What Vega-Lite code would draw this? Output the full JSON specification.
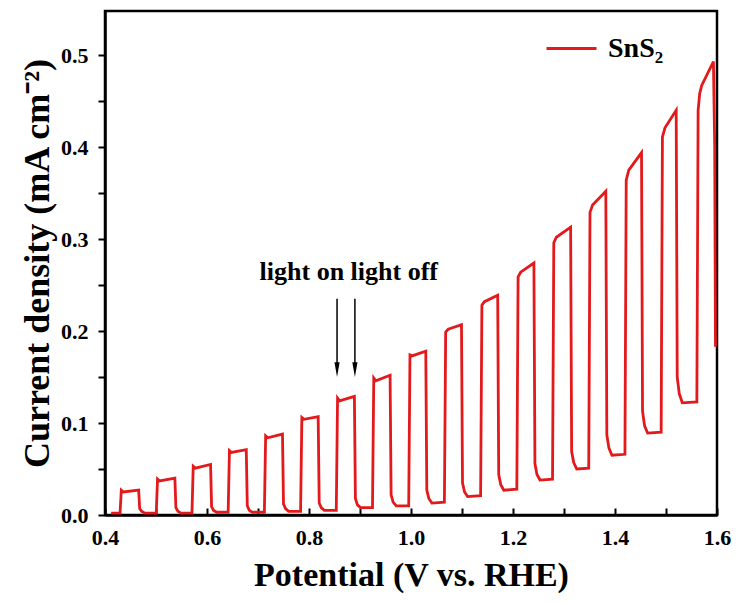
{
  "$schema": "https://vega.github.io/schema/vega-lite/v6.json",
  "width": 612,
  "height": 504,
  "autosize": {"type": "none"},
  "padding": {"left": 105, "top": 11, "right": 21, "bottom": 88},
  "background": "white",
  "datasets": {
    "curve": [
      {"i":0,"v":0.412,"j":0.002},{"i":1,"v":0.4295,"j":0.002},
      {"i":2,"v":0.432,"j":0.027},{"i":3,"v":0.436,"j":0.025},{"i":4,"v":0.466,"j":0.027},{"i":5,"v":0.468,"j":0.007},{"i":6,"v":0.472,"j":0.004},{"i":7,"v":0.478,"j":0.002},
      {"i":8,"v":0.5005,"j":0.002},{"i":9,"v":0.503,"j":0.039},{"i":10,"v":0.507,"j":0.037},{"i":11,"v":0.537,"j":0.040},{"i":12,"v":0.539,"j":0.008},{"i":13,"v":0.543,"j":0.004},{"i":14,"v":0.549,"j":0.002},
      {"i":15,"v":0.5705,"j":0.002},{"i":16,"v":0.573,"j":0.053},{"i":17,"v":0.577,"j":0.051},{"i":18,"v":0.607,"j":0.055},{"i":19,"v":0.609,"j":0.009},{"i":20,"v":0.613,"j":0.005},{"i":21,"v":0.619,"j":0.003},
      {"i":22,"v":0.6415,"j":0.003},{"i":23,"v":0.644,"j":0.070},{"i":24,"v":0.648,"j":0.068},{"i":25,"v":0.677,"j":0.071},{"i":26,"v":0.679,"j":0.010},{"i":27,"v":0.683,"j":0.005},{"i":28,"v":0.689,"j":0.003},
      {"i":29,"v":0.7125,"j":0.003},{"i":30,"v":0.715,"j":0.086},{"i":31,"v":0.719,"j":0.084},{"i":32,"v":0.748,"j":0.088},{"i":33,"v":0.750,"j":0.012},{"i":34,"v":0.754,"j":0.007},{"i":35,"v":0.760,"j":0.004},
      {"i":36,"v":0.7835,"j":0.004},{"i":37,"v":0.786,"j":0.106},{"i":38,"v":0.790,"j":0.104},{"i":39,"v":0.818,"j":0.107},{"i":40,"v":0.820,"j":0.013},{"i":41,"v":0.824,"j":0.008},{"i":42,"v":0.830,"j":0.005},
      {"i":43,"v":0.8535,"j":0.005},{"i":44,"v":0.856,"j":0.127},{"i":45,"v":0.860,"j":0.124},{"i":46,"v":0.889,"j":0.129},{"i":47,"v":0.891,"j":0.018},{"i":48,"v":0.895,"j":0.011},{"i":49,"v":0.901,"j":0.008},
      {"i":50,"v":0.9245,"j":0.008},{"i":51,"v":0.927,"j":0.149},{"i":52,"v":0.931,"j":0.146},{"i":53,"v":0.959,"j":0.152},{"i":54,"v":0.961,"j":0.022},{"i":55,"v":0.965,"j":0.014},{"i":56,"v":0.971,"j":0.010},
      {"i":57,"v":0.9955,"j":0.010},{"i":58,"v":0.998,"j":0.174},{"i":59,"v":1.002,"j":0.173},{"i":60,"v":1.029,"j":0.178},{"i":61,"v":1.031,"j":0.027},{"i":62,"v":1.035,"j":0.018},{"i":63,"v":1.041,"j":0.013},
      {"i":64,"v":1.0655,"j":0.014},{"i":65,"v":1.068,"j":0.199},{"i":66,"v":1.073,"j":0.202},{"i":67,"v":1.099,"j":0.207},{"i":68,"v":1.101,"j":0.035},{"i":69,"v":1.105,"j":0.025},{"i":70,"v":1.111,"j":0.020},
      {"i":71,"v":1.1365,"j":0.021},{"i":72,"v":1.139,"j":0.228},{"i":73,"v":1.144,"j":0.232},{"i":74,"v":1.170,"j":0.239},{"i":75,"v":1.172,"j":0.044},{"i":76,"v":1.176,"j":0.033},{"i":77,"v":1.182,"j":0.027},
      {"i":78,"v":1.2075,"j":0.028},{"i":79,"v":1.210,"j":0.259},{"i":80,"v":1.215,"j":0.264},{"i":81,"v":1.241,"j":0.274},{"i":82,"v":1.243,"j":0.056},{"i":83,"v":1.247,"j":0.044},{"i":84,"v":1.253,"j":0.038},
      {"i":85,"v":1.2775,"j":0.039},{"i":86,"v":1.280,"j":0.296},{"i":87,"v":1.285,"j":0.302},{"i":88,"v":1.313,"j":0.313},{"i":89,"v":1.315,"j":0.069},{"i":90,"v":1.319,"j":0.057},{"i":91,"v":1.325,"j":0.050},
      {"i":92,"v":1.3485,"j":0.051},{"i":93,"v":1.351,"j":0.329},{"i":94,"v":1.356,"j":0.337},{"i":95,"v":1.382,"j":0.352},{"i":96,"v":1.384,"j":0.087},{"i":97,"v":1.388,"j":0.073},{"i":98,"v":1.394,"j":0.065},
      {"i":99,"v":1.4195,"j":0.066},{"i":100,"v":1.422,"j":0.364},{"i":101,"v":1.427,"j":0.375},{"i":102,"v":1.452,"j":0.394},{"i":103,"v":1.454,"j":0.113},{"i":104,"v":1.458,"j":0.097},{"i":105,"v":1.464,"j":0.089},
      {"i":106,"v":1.4905,"j":0.090},{"i":107,"v":1.493,"j":0.411},{"i":108,"v":1.498,"j":0.421},{"i":109,"v":1.520,"j":0.440},{"i":110,"v":1.522,"j":0.150},{"i":111,"v":1.526,"j":0.132},{"i":112,"v":1.532,"j":0.122},
      {"i":113,"v":1.5605,"j":0.123},{"i":114,"v":1.563,"j":0.440},{"i":115,"v":1.566,"j":0.458},{"i":116,"v":1.570,"j":0.467},{"i":117,"v":1.593,"j":0.493},{"i":118,"v":1.5955,"j":0.400},{"i":119,"v":1.597,"j":0.183}
    ],
    "arrows": [
      {"v":0.855,"top":0.235,"bottom":0.16,"head":0.158},
      {"v":0.890,"top":0.235,"bottom":0.16,"head":0.158}
    ],
    "notes": [
      {"v":0.878,"j":0.264,"label":"light on light off"}
    ]
  },
  "layer": [
    {
      "data": {"name": "curve"},
      "mark": {"type": "line", "strokeWidth": 2.8, "interpolate": "linear"},
      "encoding": {
        "x": {
          "field": "v", "type": "quantitative",
          "scale": {"domain": [0.4, 1.6], "nice": false, "zero": false},
          "axis": {
            "title": "Potential (V vs. RHE)",
            "values": [0.4,0.5,0.6,0.7,0.8,0.9,1.0,1.1,1.2,1.3,1.4,1.5,1.6],
            "labelExpr": "round(datum.value*10)%2==0 ? format(datum.value,'.1f') : ''",
            "tickSize": -7,
            "labelPadding": 19,
            "labelFlush": false,
            "titleFontSize": 34,
            "titlePadding": 10
          }
        },
        "y": {
          "field": "j", "type": "quantitative",
          "scale": {"domain": [0, 0.548], "nice": false, "zero": false},
          "axis": {
            "title": "Current density (mA cm⁻²)",
            "values": [0,0.05,0.1,0.15,0.2,0.25,0.3,0.35,0.4,0.45,0.5],
            "labelExpr": "round(datum.value*20)%2==0 ? format(datum.value,'.1f') : ''",
            "tickSize": 7,
            "labelPadding": 10,
            "titleFontSize": 36,
            "titlePadding": 4
          }
        },
        "order": {"field": "i", "type": "quantitative"},
        "color": {
          "datum": "SnS₂",
          "type": "nominal",
          "scale": {"range": ["#e31a1c"]},
          "legend": {
            "title": null,
            "orient": "none",
            "legendX": 440,
            "legendY": 11,
            "symbolType": "stroke",
            "symbolSize": 2500,
            "symbolStrokeWidth": 3,
            "labelFont": "Liberation Serif",
            "labelFontWeight": "bold",
            "labelFontSize": 28,
            "labelColor": "black",
            "labelOffset": 10,
            "padding": 0
          }
        }
      }
    },
    {
      "data": {"name": "arrows"},
      "mark": {"type": "rule", "color": "black", "strokeWidth": 1.5},
      "encoding": {
        "x": {"field": "v", "type": "quantitative"},
        "y": {"field": "top", "type": "quantitative"},
        "y2": {"field": "bottom"}
      }
    },
    {
      "data": {"name": "arrows"},
      "mark": {"type": "point", "shape": "M-0.35,-1L0.35,-1L0,1Z", "filled": true, "color": "black", "opacity": 1, "size": 220},
      "encoding": {
        "x": {"field": "v", "type": "quantitative"},
        "y": {"field": "head", "type": "quantitative"}
      }
    },
    {
      "data": {"name": "notes"},
      "mark": {"type": "text", "font": "Liberation Serif", "fontWeight": "bold", "fontSize": 26, "color": "black", "baseline": "middle", "align": "center"},
      "encoding": {
        "x": {"field": "v", "type": "quantitative"},
        "y": {"field": "j", "type": "quantitative"},
        "text": {"field": "label"}
      }
    }
  ],
  "config": {
    "font": "Liberation Serif",
    "view": {"stroke": "black", "strokeWidth": 2.5},
    "axis": {
      "grid": false,
      "domainColor": "black",
      "domainWidth": 2.5,
      "tickColor": "black",
      "tickWidth": 2,
      "labelFont": "Liberation Serif",
      "labelFontWeight": "bold",
      "labelFontSize": 22,
      "labelColor": "black",
      "titleFont": "Liberation Serif",
      "titleFontWeight": "bold",
      "titleColor": "black"
    }
  }
}
